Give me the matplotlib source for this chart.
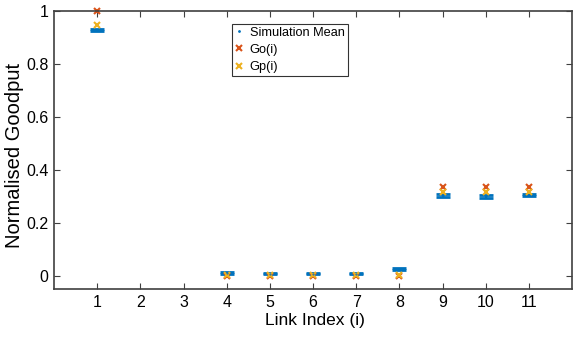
import matplotlib
matplotlib.use("Agg")
import matplotlib.pyplot as plt
from matplotlib.lines import Line2D
import numpy as np

plt.rcParams["font.family"] = ["Liberation Sans", "DejaVu Sans"]

# data
links = [1, 4, 5, 6, 7, 8, 9, 10, 11]
sim_mean = [0.928, 0.011, 0.008, 0.008, 0.009, 0.026, 0.303, 0.301, 0.305]
sim_err = [0.004, 0.002, 0.002, 0.002, 0.002, 0.002, 0.005, 0.005, 0.004]
go = [1.0, 0.0, 0.0, 0.0, 0.0, 0.0, 0.336, 0.334, 0.334]
gp = [0.948, 0.003, 0.002, 0.002, 0.003, 0.004, 0.318, 0.317, 0.318]

blue = "#0072BD"
red = "#D95319"
yellow = "#EDB120"

fig = plt.figure(figsize=(5.76, 3.37), dpi=100)
ax = fig.add_axes([0.094, 0.142, 0.899, 0.825])

ax.errorbar(links, sim_mean, yerr=sim_err, fmt=".", color=blue, markersize=1,
            ecolor=blue, elinewidth=1.5, capsize=5, capthick=2)
ax.plot(links, go, "x", color=red, markersize=4, mew=1.5, clip_on=False)
ax.plot(links, gp, "x", color=yellow, markersize=4, mew=1.5, clip_on=False)

ax.set_xlim(0, 12)
ax.set_ylim(-0.05, 1)
ax.set_xticks(np.arange(1, 12))
ax.set_yticks([0, 0.2, 0.4, 0.6, 0.8, 1])
ax.set_yticklabels(["0", "0.2", "0.4", "0.6", "0.8", "1"])
ax.tick_params(direction="in", top=True, right=True, length=4, labelsize=11.5,
               color="#404040", pad=4)
for s in ax.spines.values():
    s.set_color("#404040")
    s.set_linewidth(1.2)

ax.set_xlabel("Link Index (i)", fontsize=12.5)
ax.xaxis.set_label_coords(0.503, -0.085)
ax.set_ylabel("Normalised Goodput", fontsize=14.5)
ax.yaxis.set_label_coords(-0.058, 0.482)

handles = [
    Line2D([], [], ls="none", marker=".", color=blue, markersize=2),
    Line2D([], [], ls="none", marker="x", color=red, markersize=4, mew=1.5),
    Line2D([], [], ls="none", marker="x", color=yellow, markersize=4, mew=1.5),
]
labels = ["Simulation Mean", "Go(i)", "Gp(i)"]
leg = ax.legend(handles, labels, loc="upper left", bbox_to_anchor=(0.344, 0.955),
                fontsize=9.2, frameon=True, fancybox=False, edgecolor="black",
                handlelength=0.6, handletextpad=0.5, borderpad=0.25,
                labelspacing=0.4, borderaxespad=0)
leg.get_frame().set_linewidth(0.8)

fig.savefig("out.png", dpi=100)
